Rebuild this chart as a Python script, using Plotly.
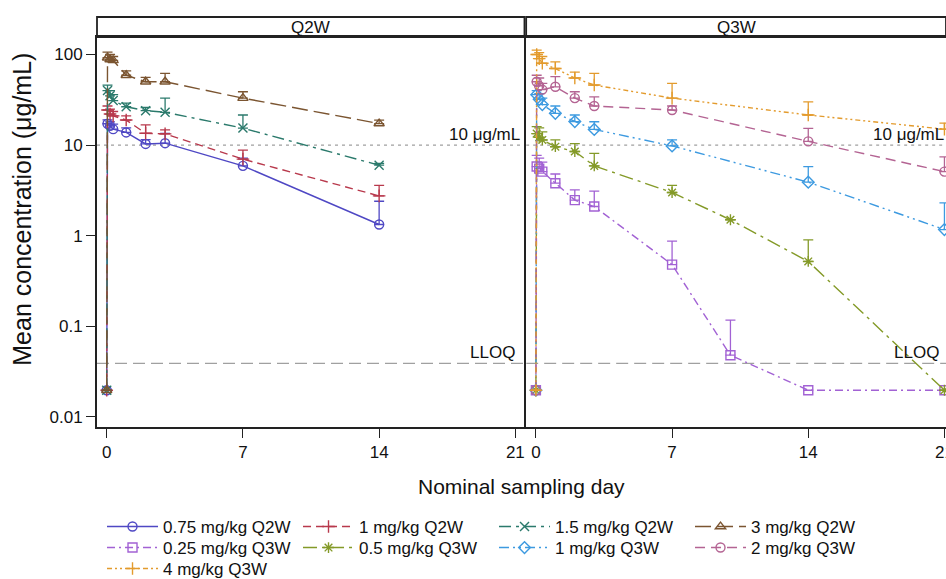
import math
import plotly.graph_objects as go

# ---------------- data ----------------
LLOQ = 0.039
TARGET = 10
BLQ = 0.0197

q2w_days = [0, 0.04, 0.17, 0.33, 1, 2, 3, 7, 14]
q3w_days = [0, 0.04, 0.17, 0.33, 1, 2, 3, 7, 14, 21]
q3w_days_low = [0, 0.04, 0.17, 0.33, 1, 2, 3, 7, 10, 14, 21]

nan = float("nan")

# Q2W cohorts: mean and mean+SD (upper whisker)
mean_075_q2w = [BLQ, 17.2, 16.3, 15.0, 13.8, 10.3, 10.5, 5.9, 1.33]
upper_075_q2w = [nan, 19.0, 18.0, 17.0, 15.5, 11.5, 13.5, 7.2, 2.4]
mean_1_q2w = [BLQ, 24.4, 22.0, 21.0, 18.9, 13.5, 13.3, 7.0, 2.75]
upper_1_q2w = [nan, 27.0, 25.0, 23.5, 21.0, 16.7, 14.7, 8.8, 3.6]
mean_15_q2w = [BLQ, 40.0, 35.0, 31.0, 26.5, 24.0, 23.0, 15.4, 6.0]
upper_15_q2w = [nan, 46.0, 40.0, 36.0, 29.0, 26.0, 33.0, 21.5, 6.3]
mean_3_q2w = [BLQ, 92.0, 88.0, 86.0, 59.0, 50.0, 50.0, 33.0, 17.3]
upper_3_q2w = [nan, 106.0, 100.0, 95.0, 66.0, 56.0, 62.0, 38.8, 18.9]

# Q3W cohorts
mean_025_q3w = [BLQ, 5.8, 5.5, 5.1, 3.8, 2.47, 2.1, 0.48, 0.048, BLQ, BLQ]
upper_025_q3w = [nan, 7.7, 7.2, 6.5, 4.8, 3.2, 3.1, 0.87, 0.117, nan, nan]
mean_05_q3w = [BLQ, 13.4, 12.2, 11.4, 9.6, 8.5, 5.9, 3.0, 1.5, 0.52, BLQ]
upper_05_q3w = [nan, 16.0, 15.5, 14.0, 11.4, 10.4, 8.1, 3.6, nan, 0.9, nan]
mean_1_q3w = [BLQ, 36.0, 32.0, 28.0, 22.4, 18.2, 14.9, 9.8, 3.9, 1.17]
upper_1_q3w = [nan, 40.0, 37.0, 33.0, 27.0, 21.5, 18.1, 11.4, 5.8, 2.3]
mean_2_q3w = [BLQ, 50.0, 45.0, 41.0, 44.0, 33.0, 27.0, 24.4, 11.0, 5.1]
upper_2_q3w = [nan, 59.0, 55.0, 48.0, 57.0, 38.8, 34.0, 27.0, 15.3, 7.4]
mean_4_q3w = [BLQ, 100.0, 90.0, 80.0, 70.0, 55.0, 46.0, 33.0, 21.5, 15.0]
upper_4_q3w = [nan, 112.0, 105.0, 95.0, 83.0, 64.0, 62.0, 48.0, 30.0, 17.5]

series = [
    # name, days, mean, upper, panel, legend row, color, dash, symbol
    ("0.75 mg/kg Q2W", q2w_days, mean_075_q2w, upper_075_q2w, 1, "legend", "#4f48c4", "solid", "circle-open"),
    ("1 mg/kg Q2W", q2w_days, mean_1_q2w, upper_1_q2w, 1, "legend", "#b8394c", "8px,5px", "cross-thin-open"),
    ("1.5 mg/kg Q2W", q2w_days, mean_15_q2w, upper_15_q2w, 1, "legend", "#2b7a6c", "12px,5px,3px,5px", "x-thin-open"),
    ("3 mg/kg Q2W", q2w_days, mean_3_q2w, upper_3_q2w, 1, "legend", "#7b5531", "16px,6px", "triangle-up-open"),
    ("0.25 mg/kg Q3W", q3w_days_low, mean_025_q3w, upper_025_q3w, 2, "legend2", "#a262d4", "8px,4px,2px,4px", "square-open"),
    ("0.5 mg/kg Q3W", q3w_days_low, mean_05_q3w, upper_05_q3w, 2, "legend2", "#849a28", "14px,5px,3px,5px", "asterisk-open"),
    ("1 mg/kg Q3W", q3w_days, mean_1_q3w, upper_1_q3w, 2, "legend2", "#3d9ae0", "10px,4px,2px,4px,2px,4px", "diamond-open"),
    ("2 mg/kg Q3W", q3w_days, mean_2_q3w, upper_2_q3w, 2, "legend2", "#b46493", "10px,6px", "circle-open"),
    ("4 mg/kg Q3W", q3w_days, mean_4_q3w, upper_4_q3w, 2, "legend3", "#e39b2d", "5px,3px,2px,3px,2px,3px", "cross-thin-open"),
]

x_ticks = [0, 7, 14, 21]
y_ticks = [0.01, 0.1, 1, 10, 100]
y_ticklabels = ["0.01", "0.1", "1", "10", "100"]

# ---------------- figure ----------------
FONT = "Liberation Sans, Arial, sans-serif"
fig = go.Figure()

X1_RANGE = [-0.5, 21.47]
X2_RANGE = [-0.5, 21.08]

# reference lines
for xa, ya, rng in (("x", "y", X1_RANGE), ("x2", "y2", X2_RANGE)):
    fig.add_trace(go.Scatter(x=rng, y=[TARGET, TARGET], mode="lines", xaxis=xa, yaxis=ya,
                             line=dict(color="#a0a0a0", width=1.4, dash="3px,4px"),
                             showlegend=False, hoverinfo="skip"))
    fig.add_trace(go.Scatter(x=rng, y=[LLOQ, LLOQ], mode="lines", xaxis=xa, yaxis=ya,
                             line=dict(color="#a0a0a0", width=1.4, dash="12px,6px"),
                             showlegend=False, hoverinfo="skip"))

for name, days, mean, upper, panel, leg, color, dash, symbol in series:
    err = [(u - m) if not math.isnan(u) else nan for u, m in zip(upper, mean)]
    fig.add_trace(go.Scatter(
        x=days, y=mean, name=name, mode="lines+markers", legend=leg,
        xaxis="x" if panel == 1 else "x2", yaxis="y" if panel == 1 else "y2",
        line=dict(color=color, width=1.4, dash=dash),
        marker=dict(symbol=symbol, size=9, color=color, line=dict(width=1.4, color=color)),
        error_y=dict(type="data", symmetric=False, array=err,
                     arrayminus=[0] * len(err), color=color, thickness=1.3, width=5),
    ))

YR = [-2.111, 2.193]
D_SPLIT = 0.5035
YTOP = 390 / 410

axis_common = dict(showgrid=False, zeroline=False, showline=True, linecolor="#222",
                   linewidth=1.8, mirror=True, ticks="outside", ticklen=9, tickwidth=1.3,
                   tickcolor="#222", tickfont=dict(size=17, color="#111", family=FONT))

leg_common = dict(orientation="h", x=0.0059, xanchor="left", yanchor="middle",
                  entrywidth=130, itemwidth=51, font=dict(size=17, family=FONT, color="#111"),
                  bgcolor="rgba(0,0,0,0)", borderwidth=0)

fig.update_layout(
    width=946, height=579,
    margin=dict(l=97, r=0, t=17, b=152, autoexpand=False),
    paper_bgcolor="white", plot_bgcolor="white",
    font=dict(family=FONT, color="#111"),
    xaxis=dict(domain=[0, D_SPLIT], range=X1_RANGE, tickvals=x_ticks, anchor="y", **axis_common),
    xaxis2=dict(domain=[D_SPLIT + 0.002, 1], range=X2_RANGE, tickvals=x_ticks, anchor="y2",
                ticklabeloverflow="allow", **axis_common),
    yaxis=dict(domain=[0, YTOP], type="log", range=YR, tickvals=y_ticks, ticktext=y_ticklabels,
               anchor="x", **axis_common),
    yaxis2=dict(domain=[0, YTOP], type="log", range=YR, tickvals=y_ticks, showticklabels=False,
                anchor="x2", matches="y",
                **{k: v for k, v in axis_common.items() if k != "ticks"}, ticks=""),
    legend=dict(y=-0.2439, **leg_common),
    legend2=dict(y=-0.2951, **leg_common),
    legend3=dict(y=-0.3463, **leg_common),
    showlegend=True,
)

# strip headers
for x0, x1, label in ((0, D_SPLIT, "Q2W"), (D_SPLIT + 0.002, 1.0, "Q3W")):
    fig.add_shape(type="rect", xref="paper", yref="paper", x0=x0, x1=x1, y0=YTOP, y1=1.0,
                  line=dict(color="#222", width=1.8), fillcolor="white", layer="below")
    fig.add_annotation(xref="paper", yref="paper", x=(x0 + x1) / 2, y=(YTOP + 1) / 2,
                       text=label, showarrow=False, font=dict(size=17, family=FONT, color="#111"),
                       xanchor="center", yanchor="middle")

# reference line labels
for xa, ya, xr in (("x", "y", X1_RANGE[1] - 0.15), ("x2", "y2", X2_RANGE[1])):
    fig.add_annotation(xref=xa, yref=ya, x=xr, y=math.log10(TARGET), text="10 μg/mL",
                       showarrow=False, xanchor="right", yanchor="bottom", yshift=-1,
                       font=dict(size=17, family=FONT, color="#111"))
    fig.add_annotation(xref=xa, yref=ya, x=xr - 0.25, y=math.log10(LLOQ), text="LLOQ",
                       showarrow=False, xanchor="right", yanchor="bottom", yshift=-1,
                       font=dict(size=17, family=FONT, color="#111"))

# axis titles
fig.add_annotation(xref="paper", yref="paper", x=0.5, y=-0.1463, text="Nominal sampling day",
                   showarrow=False, xanchor="center", yanchor="middle",
                   font=dict(size=21, family=FONT, color="#111"))
fig.add_annotation(xref="paper", yref="paper", x=-0.0883, y=0.53, text="Mean concentration (μg/mL)",
                   showarrow=False, textangle=-90, xanchor="center", yanchor="middle",
                   font=dict(size=25, family=FONT, color="#111"))

fig.write_html("out.html", config={"displayModeBar": False},
               post_script="document.body.style.margin='0px';")
